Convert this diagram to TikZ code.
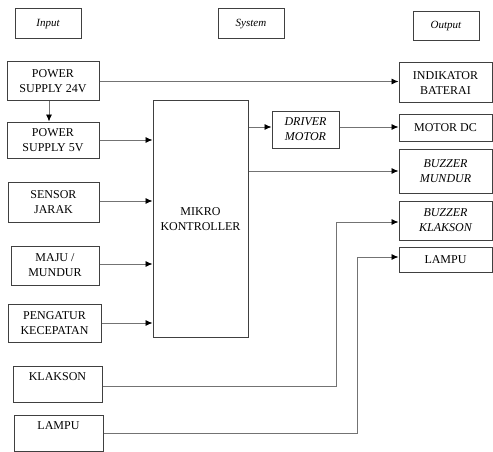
\documentclass[tikz,border=0pt]{standalone}
\usepackage{fontspec}
\setmainfont{Liberation Serif}
\usetikzlibrary{arrows.meta}

\begin{document}
\begin{tikzpicture}[x=1pt,y=-1pt,
    font=\fontsize{12}{15}\selectfont,
    blok/.style={draw=black!75, line width=1pt, align=center, inner sep=0pt},
    judul/.style={blok, minimum width=66pt, font=\fontsize{11}{13}\selectfont\itshape},
    alur/.style={draw=black!55, line width=0.8pt},
    panah/.style={alur, -{Latex[length=7pt,width=6pt,black]}}]
    \useasboundingbox (0,0) rectangle (493,452);
    % Column headers
    \node[judul, minimum height=30pt] (input)  at (48,24)    {Input};
    \node[judul, minimum height=30pt] (system) at (251,24)   {System};
    \node[judul, minimum height=29pt] (output) at (446,26.5) {Output};
    % Input blocks
    \node[blok, minimum width=92pt, minimum height=39pt] (ps24)     at (53,81.5)  {POWER\\SUPPLY 24V};
    \node[blok, minimum width=92pt, minimum height=36pt] (ps5)      at (53,140)   {POWER\\SUPPLY 5V};
    \node[blok, minimum width=91pt, minimum height=40pt] (sensor)   at (53.5,202) {SENSOR\\JARAK};
    \node[blok, minimum width=88pt, minimum height=39pt] (maju)     at (55,265.5) {MAJU /\\MUNDUR};
    \node[blok, minimum width=93pt, minimum height=38pt] (pengatur) at (54.5,323) {PENGATUR\\KECEPATAN};
    \node[blok, minimum width=89pt, minimum height=36pt] (klakson)  at (57.5,384) {KLAKSON\\\mbox{}};
    \node[blok, minimum width=89pt, minimum height=36pt] (lampuin)  at (58.5,433) {LAMPU\\\mbox{}};
    % System blocks
    \node[blok, minimum width=95pt, minimum height=236pt] (mikro) at (200.5,219) {MIKRO\\KONTROLLER};
    \node[blok, minimum width=67pt, minimum height=37pt, font=\fontsize{12}{15}\selectfont\itshape] (driver) at (305.5,129.5) {DRIVER\\MOTOR};
    % Output blocks
    \node[blok, minimum width=93pt, minimum height=40pt] (indikator) at (445.5,83)    {INDIKATOR\\BATERAI};
    \node[blok, minimum width=93pt, minimum height=27pt] (motordc)   at (445.5,127.5) {MOTOR DC};
    \node[blok, minimum width=93pt, minimum height=44pt, font=\fontsize{12}{15}\selectfont\itshape] (bmundur)  at (445.5,171)   {BUZZER\\MUNDUR};
    \node[blok, minimum width=93pt, minimum height=39pt, font=\fontsize{12}{15}\selectfont\itshape] (bklakson) at (445.5,220.5) {BUZZER\\KLAKSON};
    \node[blok, minimum width=93pt, minimum height=25pt] (lampuout)  at (445.5,259.5) {LAMPU};
    % Bend points of the long lines
    \coordinate (kbelok) at (336,0);
    \coordinate (lbelok) at (357,0);
    % Connections
    \draw[panah] (ps24) -- (ps24 -| indikator.west);
    \draw[panah] (ps24.south -| 49,0) -- (ps5.north -| 49,0);
    \draw[panah] (ps5) -- (ps5 -| mikro.west);
    \draw[panah] (sensor.east |- 0,201) -- (mikro.west |- 0,201);
    \draw[panah] (maju.east |- 0,264) -- (mikro.west |- 0,264);
    \draw[panah] (pengatur) -- (pengatur -| mikro.west);
    \draw[panah] (mikro.east |- 0,127) -- (driver.west |- 0,127);
    \draw[panah] (driver.east |- 0,127) -- (motordc.west |- 0,127);
    \draw[panah] (mikro.east |- bmundur) -- (bmundur);
    \draw[panah] (klakson.east |- 0,386) -| (kbelok |- 0,222) -- (bklakson.west |- 0,222);
    \draw[panah] (lampuin.east) -| (lbelok |- 0,257) -- (lampuout.west |- 0,257);
\end{tikzpicture}
\end{document}
